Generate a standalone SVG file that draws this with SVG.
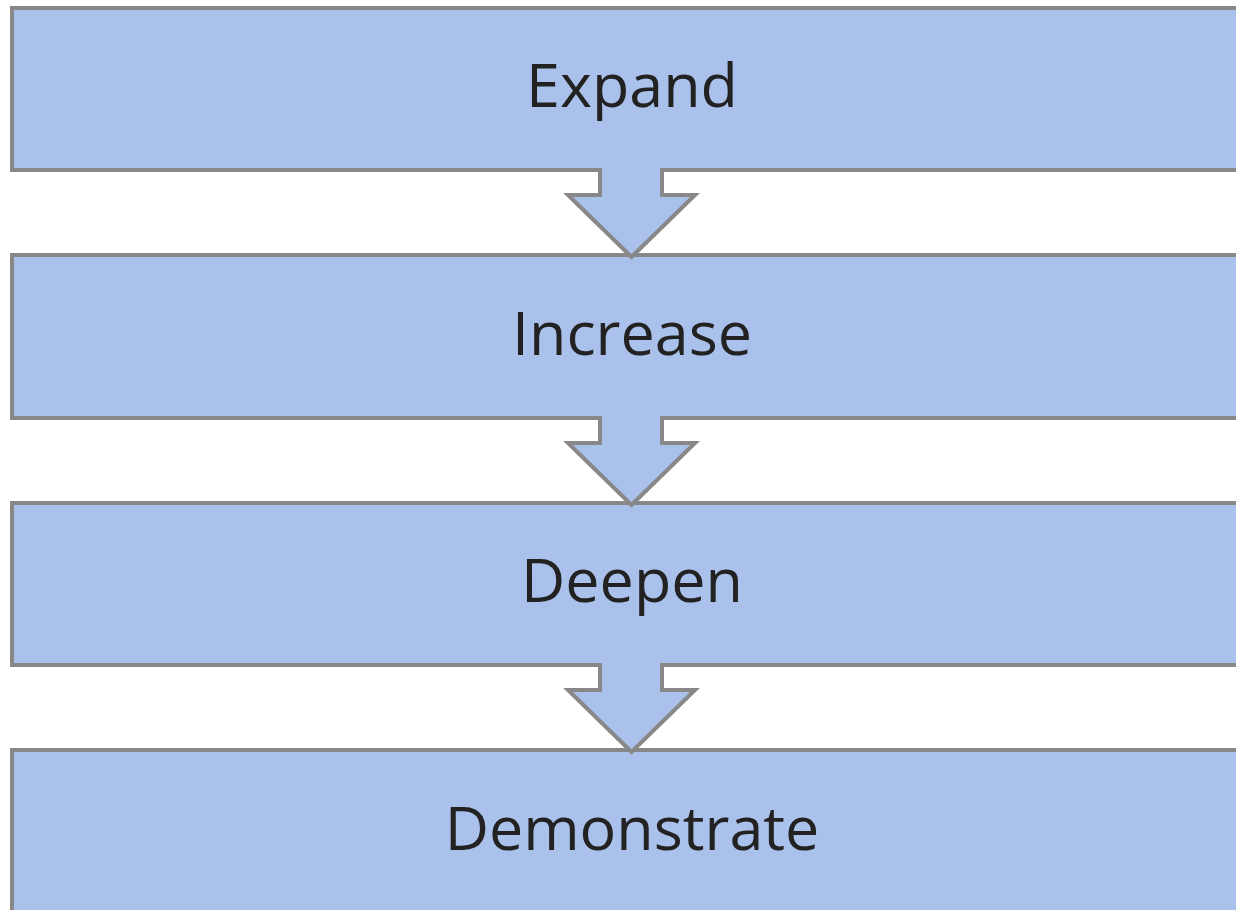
<svg xmlns="http://www.w3.org/2000/svg" width="1236" height="910" viewBox="0 0 1236 910">
<style>
.box{fill:#AAC1EB;stroke:#888888;stroke-width:4}
.af{fill:#AAC1EB;stroke:none}
.as{fill:none;stroke:#888888;stroke-width:4;stroke-linejoin:miter}
.t{font-family:"Open Sans","Liberation Sans",sans-serif;font-size:61px;fill:#222222;text-anchor:middle}
</style>
<rect width="1236" height="910" fill="#FFFFFF"/>
<g id="n1"><rect class="box" x="12" y="8" width="1240" height="162"/><text class="t" x="632" y="107">Expand</text></g>
<g id="n2"><rect class="box" x="12" y="255" width="1240" height="163"/><text class="t" x="632" y="355">Increase</text></g>
<g id="n3"><rect class="box" x="12" y="503" width="1240" height="162"/><text class="t" x="632" y="602">Deepen</text></g>
<g id="n4"><rect class="box" x="12" y="750" width="1240" height="180"/><text class="t" x="632" y="850">Demonstrate</text></g>
<g id="connectors">
<g transform="translate(0,0)">
<path class="af" d="M600,167 L600,195 L568,195 L631.5,257 L695,195 L662,195 L662,167 Z"/>
<path class="as" d="M600,168 L600,195 L568,195 L631.5,257 L695,195 L662,195 L662,168"/>
</g>
<g transform="translate(0,248)">
<path class="af" d="M600,167 L600,195 L568,195 L631.5,257 L695,195 L662,195 L662,167 Z"/>
<path class="as" d="M600,168 L600,195 L568,195 L631.5,257 L695,195 L662,195 L662,168"/>
</g>
<g transform="translate(0,495)">
<path class="af" d="M600,167 L600,195 L568,195 L631.5,257 L695,195 L662,195 L662,167 Z"/>
<path class="as" d="M600,168 L600,195 L568,195 L631.5,257 L695,195 L662,195 L662,168"/>
</g>
</g>
</svg>
